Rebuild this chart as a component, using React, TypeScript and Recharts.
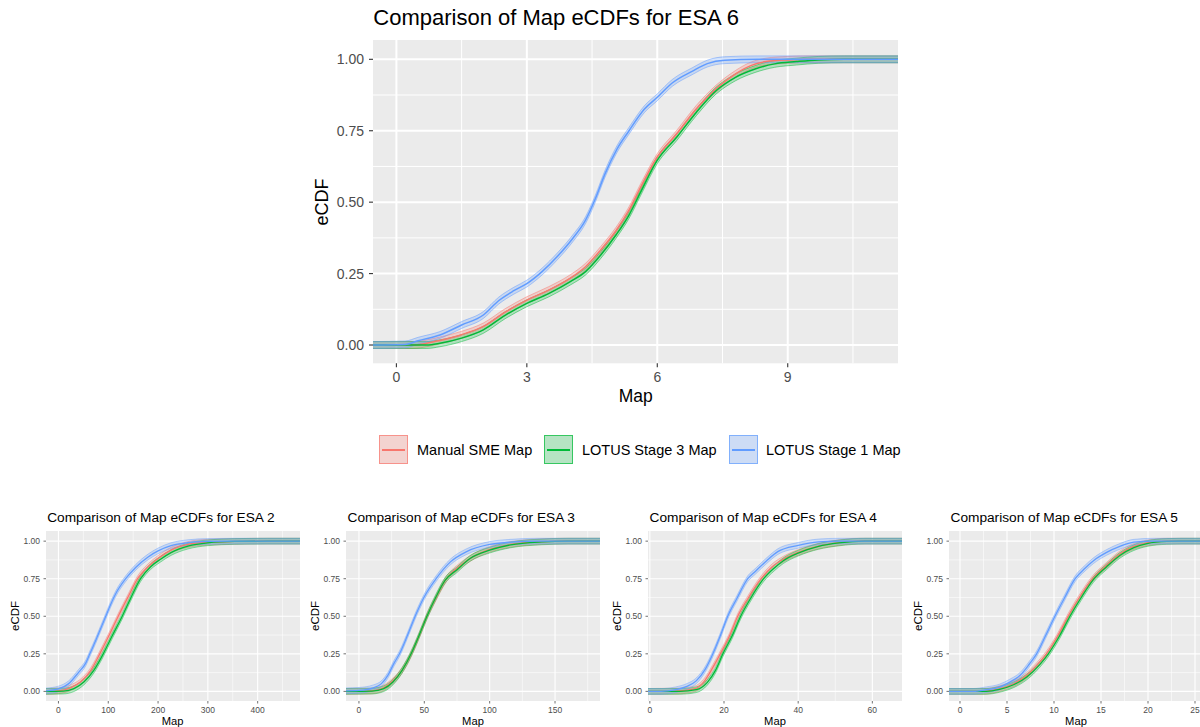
import React from "react";
import { ComposedChart, Area, Line, XAxis, YAxis, CartesianGrid } from "recharts";

type Pt = [number, number];

const seriesNames = ["Manual SME Map", "LOTUS Stage 3 Map", "LOTUS Stage 1 Map"];
const seriesColors = ["#F8766D", "#00BA38", "#619CFF"];
const yTicks = [0, 0.25, 0.5, 0.75, 1];
const yMinor = [0.125, 0.375, 0.625, 0.875];
const yDomain: [number, number] = [-0.064, 1.0676];

// ESA 6 (big panel)
const esa6Sme: Pt[] = [
  [-0.54, 0], [0.4, 0], [0.7, 0.006], [1.0, 0.016], [1.5, 0.036], [2.0, 0.065], [2.5, 0.115],
  [3.0, 0.157], [3.5, 0.192], [4.0, 0.234], [4.35, 0.274], [4.7, 0.333], [5.05, 0.4], [5.35, 0.472],
  [5.62, 0.553], [6.0, 0.658], [6.45, 0.74], [6.9, 0.827], [7.35, 0.897], [7.8, 0.949], [8.15, 0.978],
  [8.5, 0.992], [9.0, 0.998], [9.5, 1], [11.54, 1],
];
const esa6Stage3: Pt[] = [
  [-0.54, 0], [0.7, 0], [1.0, 0.006], [1.5, 0.024], [2.0, 0.053], [2.5, 0.104], [3.0, 0.146],
  [3.5, 0.18], [4.0, 0.222], [4.35, 0.257], [4.7, 0.315], [5.05, 0.385], [5.35, 0.455], [5.62, 0.536],
  [6.0, 0.647], [6.45, 0.728], [6.9, 0.815], [7.35, 0.89], [7.8, 0.937], [8.25, 0.966], [8.7, 0.984],
  [9.2, 0.992], [9.7, 0.998], [10.3, 1], [11.54, 1],
];
const esa6Stage1: Pt[] = [
  [-0.54, 0], [0.2, 0.002], [0.5, 0.015], [1.0, 0.035], [1.5, 0.07], [2.0, 0.105], [2.35, 0.155],
  [2.7, 0.19], [3.0, 0.215], [3.35, 0.257], [3.7, 0.31], [4.05, 0.372], [4.35, 0.437], [4.57, 0.51],
  [4.8, 0.6], [5.07, 0.685], [5.35, 0.75], [5.7, 0.825], [6.0, 0.867], [6.35, 0.918], [6.8, 0.958],
  [7.15, 0.985], [7.55, 0.997], [8.3, 1], [11.54, 1],
];

// ESA 2
const esa2Sme: Pt[] = [
  [-25, 0], [0, 0.004], [24, 0.024], [44, 0.062], [65, 0.14], [83, 0.25], [100, 0.362], [120, 0.5],
  [140, 0.63], [159, 0.75], [180, 0.83], [200, 0.885], [226, 0.94], [260, 0.978], [300, 0.993],
  [354, 0.998], [400, 1], [485, 1],
];
const esa2Stage3: Pt[] = [
  [-25, 0], [10, 0.002], [31, 0.018], [51, 0.062], [71, 0.14], [90, 0.25], [108, 0.37], [128, 0.5],
  [145, 0.62], [165, 0.75], [185, 0.83], [205, 0.88], [226, 0.924], [260, 0.967], [300, 0.989],
  [354, 0.998], [420, 1], [485, 1],
];
const esa2Stage1: Pt[] = [
  [-25, 0.003], [0, 0.016], [20, 0.05], [40, 0.125], [55, 0.19], [63, 0.25], [75, 0.34], [85, 0.42],
  [95, 0.5], [105, 0.58], [115, 0.65], [135, 0.75], [155, 0.825], [180, 0.895], [200, 0.935],
  [226, 0.97], [260, 0.99], [300, 0.998], [350, 1], [485, 1],
];

// ESA 3
const esa3Sme: Pt[] = [
  [-10, 0], [8, 0.002], [17, 0.016], [25, 0.062], [33, 0.14], [40, 0.25], [46, 0.37], [52, 0.5],
  [59, 0.625], [67, 0.75], [75, 0.82], [83, 0.873], [100, 0.945], [116, 0.978], [138, 0.996],
  [156, 1], [184.4, 1],
];
const esa3Stage3: Pt[] = [
  [-10, 0], [10, 0.002], [19, 0.018], [26, 0.062], [33, 0.14], [40, 0.252], [46, 0.372], [52, 0.5],
  [59, 0.63], [66, 0.74], [75, 0.81], [85, 0.885], [100, 0.94], [116, 0.975], [140, 0.995],
  [160, 1], [184.4, 1],
];
const esa3Stage1: Pt[] = [
  [-10, 0.004], [0, 0.007], [11, 0.024], [17, 0.05], [22, 0.105], [27, 0.19], [31, 0.25], [37, 0.37],
  [43, 0.5], [50, 0.63], [59, 0.75], [70, 0.862], [82, 0.929], [100, 0.978], [116, 0.993],
  [136, 1], [184.4, 1],
];

// ESA 4
const esa4Sme: Pt[] = [
  [-0.5, 0], [7, 0.002], [12, 0.016], [14.5, 0.062], [17, 0.16], [19, 0.25], [21.5, 0.37],
  [23.7, 0.5], [26.5, 0.62], [30, 0.75], [33, 0.83], [36, 0.88], [40, 0.925], [45.5, 0.967],
  [51, 0.99], [56, 1], [68, 1],
];
const esa4Stage3: Pt[] = [
  [-0.5, 0], [8, 0], [12.5, 0.011], [15.5, 0.06], [17.7, 0.14], [19.7, 0.25], [22.2, 0.37],
  [24.5, 0.5], [27.2, 0.62], [30.7, 0.75], [33.5, 0.82], [36, 0.87], [40, 0.92], [45.5, 0.965],
  [51, 0.988], [58, 1], [68, 1],
];
const esa4Stage1: Pt[] = [
  [-0.5, 0], [3, 0], [7, 0.011], [10, 0.033], [12.5, 0.07], [15, 0.15], [17, 0.25], [19, 0.37],
  [21, 0.5], [23.5, 0.62], [26.4, 0.75], [28.5, 0.8], [31.5, 0.87], [34.5, 0.93], [40, 0.972],
  [45.5, 0.995], [51, 1], [68, 1],
];

// ESA 5
const esa5Sme: Pt[] = [
  [-1.17, 0], [2.5, 0], [4.2, 0.018], [5.7, 0.051], [7.1, 0.107], [8.5, 0.196], [9.2, 0.25],
  [10.4, 0.37], [11.5, 0.5], [12.8, 0.635], [14.1, 0.75], [15.6, 0.84], [17, 0.915], [18.5, 0.965],
  [19.9, 0.988], [22, 1], [25.85, 1],
];
const esa5Stage3: Pt[] = [
  [-1.17, 0], [2.8, 0], [4.2, 0.013], [5.7, 0.044], [7.1, 0.096], [8.5, 0.18], [9.4, 0.25],
  [10.6, 0.37], [11.7, 0.5], [12.9, 0.625], [14.2, 0.745], [15.6, 0.83], [17, 0.905], [18.5, 0.957],
  [19.9, 0.984], [22, 0.998], [23.5, 1], [25.85, 1],
];
const esa5Stage1: Pt[] = [
  [-1.17, 0], [1.4, 0], [2.8, 0.011], [4.2, 0.029], [5.3, 0.062], [6.4, 0.107], [7.4, 0.184],
  [8.15, 0.25], [9.1, 0.37], [10.1, 0.5], [11.1, 0.62], [12.25, 0.75], [13.3, 0.82], [14.2, 0.87],
  [15.6, 0.925], [17, 0.965], [18.5, 0.993], [20.6, 1], [25.85, 1],
];

// half-width of the confidence band around each eCDF
const bigBand = 0.012;
const smallBand = 0.019;

const FONT = '"Liberation Sans", Arial, Helvetica, sans-serif';

function rgba(hex: string, a: number) {
  const n = parseInt(hex.slice(1), 16);
  return `rgba(${(n >> 16) & 255},${(n >> 8) & 255},${n & 255},${a})`;
}

type PanelProps = {
  title: string;
  left: number;
  top: number;
  width: number;
  height: number;
  xDomain: [number, number];
  xTicks: number[];
  xMinor: number[];
  curves: Pt[][];
  band: number;
  big?: boolean;
};

function EcdfPanel({ title, left, top, width, height, xDomain, xTicks, xMinor, curves, band, big }: PanelProps) {
  const yw = big ? 70 : 44;
  const xh = big ? 32 : 26;
  const tickFont = big ? 14 : 8.5;
  const tickSize = big ? 4 : 2.5;
  const yMargin = big ? 5 : 3.5;
  const xMargin = big ? 4.4 : 3.4;
  const lineW = big ? 1.5 : 1.3;
  const bandW = big ? 0.9 : 0.75;

  return (
    <>
      <div
        style={{
          position: "absolute",
          left: left + (big ? 0 : 1.5),
          top: big ? 18.3 : top - 12.7,
          transform: "translateY(-50%)",
          fontSize: big ? 22 : 13.7,
          lineHeight: 1,
          whiteSpace: "nowrap",
          color: "#000",
        }}
      >
        {title}
      </div>
      <div
        style={{
          position: "absolute",
          left: left - (big ? 51 : 30),
          top: top + height / 2,
          transform: "translate(-50%, -50%) rotate(-90deg)",
          fontSize: big ? 18 : 11.5,
          lineHeight: 1,
          whiteSpace: "nowrap",
        }}
      >
        eCDF
      </div>
      <div
        style={{
          position: "absolute",
          left: left + width / 2,
          top: big ? 396.7 : top + height + 21,
          transform: "translate(-50%, -50%)",
          fontSize: big ? 17.5 : 11.2,
          lineHeight: 1,
          whiteSpace: "nowrap",
        }}
      >
        Map
      </div>
      <div style={{ position: "absolute", left: left - yw, top, width: yw + width, height: height + xh }}>
        <ComposedChart width={yw + width} height={height + xh} margin={{ top: 0, right: 0, bottom: 0, left: 0 }}>
          <CartesianGrid
            fill="#EBEBEB"
            fillOpacity={1}
            stroke="#FFFFFF"
            strokeWidth={big ? 1 : 0.55}
            horizontalValues={yMinor}
            verticalValues={xMinor}
          />
          <CartesianGrid
            stroke="#FFFFFF"
            strokeWidth={big ? 2 : 1.1}
            horizontalValues={yTicks}
            verticalValues={xTicks}
          />
          <XAxis
            type="number"
            dataKey="x"
            domain={xDomain}
            ticks={xTicks}
            interval={0}
            allowDataOverflow
            axisLine={false}
            tickLine={{ stroke: "#333333", strokeWidth: big ? 1.1 : 0.7 }}
            tickSize={tickSize}
            tickMargin={xMargin}
            tick={{ fill: "#4D4D4D", fontSize: tickFont, fontFamily: FONT }}
            height={xh}
          />
          <YAxis
            type="number"
            domain={yDomain}
            ticks={yTicks}
            interval={0}
            allowDataOverflow
            axisLine={false}
            tickLine={{ stroke: "#333333", strokeWidth: big ? 1.1 : 0.7 }}
            tickSize={tickSize}
            tickMargin={yMargin}
            tick={{ fill: "#4D4D4D", fontSize: tickFont, fontFamily: FONT }}
            tickFormatter={(v: number) => v.toFixed(2)}
            width={yw}
          />
          {curves.map((c, i) => (
            <Area
              key={"band" + i}
              data={c.map(([x, y]) => ({ x, band: [y - band, y + band] }))}
              dataKey="band"
              type="monotone"
              fill={seriesColors[i]}
              fillOpacity={0.25}
              stroke={seriesColors[i]}
              strokeOpacity={0.55}
              strokeWidth={bandW}
              dot={false}
              activeDot={false}
              isAnimationActive={false}
            />
          ))}
          {curves.map((c, i) => (
            <Line
              key={"line" + i}
              data={c.map(([x, y]) => ({ x, y }))}
              dataKey="y"
              type="monotone"
              stroke={seriesColors[i]}
              strokeWidth={lineW}
              dot={false}
              activeDot={false}
              isAnimationActive={false}
            />
          ))}
        </ComposedChart>
      </div>
    </>
  );
}

function Legend() {
  const keys = [379, 544, 729];
  const labels = [417, 582, 766];
  return (
    <>
      {seriesNames.map((name, i) => (
        <React.Fragment key={name}>
          <div
            style={{
              position: "absolute",
              left: keys[i],
              top: 435,
              width: 29,
              height: 29,
              background: "#F2F2F2",
            }}
          >
            <div
              style={{
                position: "absolute",
                inset: 0,
                boxSizing: "border-box",
                background: rgba(seriesColors[i], 0.25),
                border: `1.2px solid ${rgba(seriesColors[i], 0.7)}`,
              }}
            />
            <div
              style={{
                position: "absolute",
                left: 3,
                right: 3,
                top: 13.5,
                height: 2,
                background: seriesColors[i],
              }}
            />
          </div>
          <div
            style={{
              position: "absolute",
              left: labels[i],
              top: 449.5,
              transform: "translateY(-50%)",
              fontSize: 14.5,
              lineHeight: 1,
              whiteSpace: "nowrap",
            }}
          >
            {name}
          </div>
        </React.Fragment>
      ))}
    </>
  );
}

export default function App() {
  return (
    <div
      style={{
        position: "absolute",
        left: 0,
        top: 0,
        width: 1200,
        height: 727,
        overflow: "hidden",
        background: "#FFFFFF",
        fontFamily: FONT,
        color: "#000",
      }}
    >
      <EcdfPanel
        big
        title="Comparison of Map eCDFs for ESA 6"
        left={373.3}
        top={40}
        width={525}
        height={323.3}
        xDomain={[-0.538, 11.536]}
        xTicks={[0, 3, 6, 9]}
        xMinor={[1.5, 4.5, 7.5, 10.5]}
        curves={[esa6Sme, esa6Stage3, esa6Stage1]}
        band={bigBand}
      />
      <Legend />
      <EcdfPanel
        title="Comparison of Map eCDFs for ESA 2"
        left={45.7}
        top={531}
        width={254}
        height={170}
        xDomain={[-25, 485]}
        xTicks={[0, 100, 200, 300, 400]}
        xMinor={[50, 150, 250, 350, 450]}
        curves={[esa2Sme, esa2Stage3, esa2Stage1]}
        band={smallBand}
      />
      <EcdfPanel
        title="Comparison of Map eCDFs for ESA 3"
        left={346}
        top={531}
        width={254}
        height={170}
        xDomain={[-9.9, 184.4]}
        xTicks={[0, 50, 100, 150]}
        xMinor={[25, 75, 125, 175]}
        curves={[esa3Sme, esa3Stage3, esa3Stage1]}
        band={smallBand}
      />
      <EcdfPanel
        title="Comparison of Map eCDFs for ESA 4"
        left={648}
        top={531}
        width={254}
        height={170}
        xDomain={[-0.5, 68]}
        xTicks={[0, 20, 40, 60]}
        xMinor={[10, 30, 50]}
        curves={[esa4Sme, esa4Stage3, esa4Stage1]}
        band={smallBand}
      />
      <EcdfPanel
        title="Comparison of Map eCDFs for ESA 5"
        left={949}
        top={531}
        width={254}
        height={170}
        xDomain={[-1.17, 25.85]}
        xTicks={[0, 5, 10, 15, 20, 25]}
        xMinor={[2.5, 7.5, 12.5, 17.5, 22.5]}
        curves={[esa5Sme, esa5Stage3, esa5Stage1]}
        band={smallBand}
      />
    </div>
  );
}
